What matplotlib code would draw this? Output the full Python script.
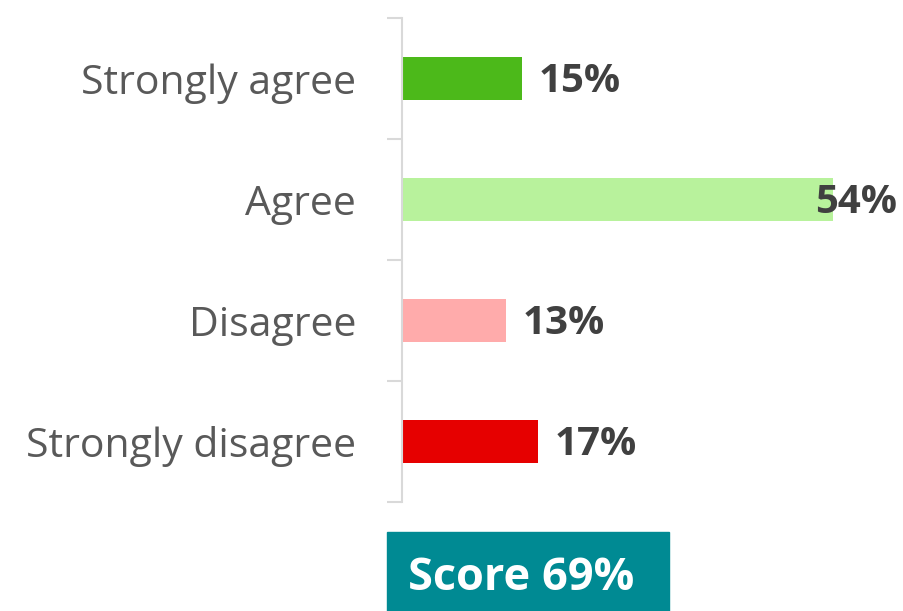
import matplotlib
matplotlib.use("Agg")
import matplotlib.pyplot as plt
from matplotlib.patches import Rectangle

categories = ["Strongly agree", "Agree", "Disagree", "Strongly disagree"]
values = [15, 54, 13, 17]
colors = ["#4CB91A", "#B8F29C", "#FFABAB", "#E60000"]
score_text = "Score 69%"

W, H = 904, 611
fig = plt.figure(figsize=(W / 100, H / 100), dpi=100)
ax = fig.add_axes([402 / W, (H - 502) / H, (W - 402) / W, 484 / H])

n = len(categories)
ypos = list(range(n))
ax.barh(ypos, values, height=0.35, color=colors, zorder=2)
ax.set_ylim(n - 0.5, -0.5)
ax.set_xlim(0, (W - 402) / 7.98)

ax.set_yticks([i - 0.5 for i in range(n + 1)])
ax.set_yticklabels([])
ax.set_yticks(ypos, minor=True)
ax.set_yticklabels(categories, minor=True, fontsize=29.5, color="#595959",
                   family="Open Sans")
ax.tick_params(axis="y", which="major", length=10.8, width=1.5, color="#D9D9D9")
ax.tick_params(axis="y", which="minor", length=0, pad=33)
ax.set_xticks([])
for s in ["top", "right", "bottom"]:
    ax.spines[s].set_visible(False)
ax.spines["left"].set_color("#D9D9D9")
ax.spines["left"].set_linewidth(1.5)

labels = []
for y, v in zip(ypos, values):
    t = ax.annotate(f"{v}%", xy=(v, y), xytext=(12, -2.5),
                    textcoords="offset points", va="center", ha="left",
                    fontsize=29, fontweight="bold", color="#404040",
                    family="Open Sans", zorder=3)
    labels.append(t)

fig.canvas.draw()
renderer = fig.canvas.get_renderer()
right_limit = 897
for t in labels:
    bb = t.get_window_extent(renderer)
    if bb.x1 > right_limit:
        ox, oy = t.xyann
        t.xyann = (ox - (bb.x1 - right_limit) * 72 / fig.dpi, oy)

fig.patches.append(Rectangle((387 / W, 0), (669 - 387) / W, (H - 532) / H,
                             transform=fig.transFigure, color="#008A93",
                             zorder=1))
fig.text(408 / W, (H - 578) / H, score_text, color="white", fontsize=32.5,
         fontweight="bold", family="Open Sans", va="center", ha="left")

fig.savefig("out.png", dpi=100)
